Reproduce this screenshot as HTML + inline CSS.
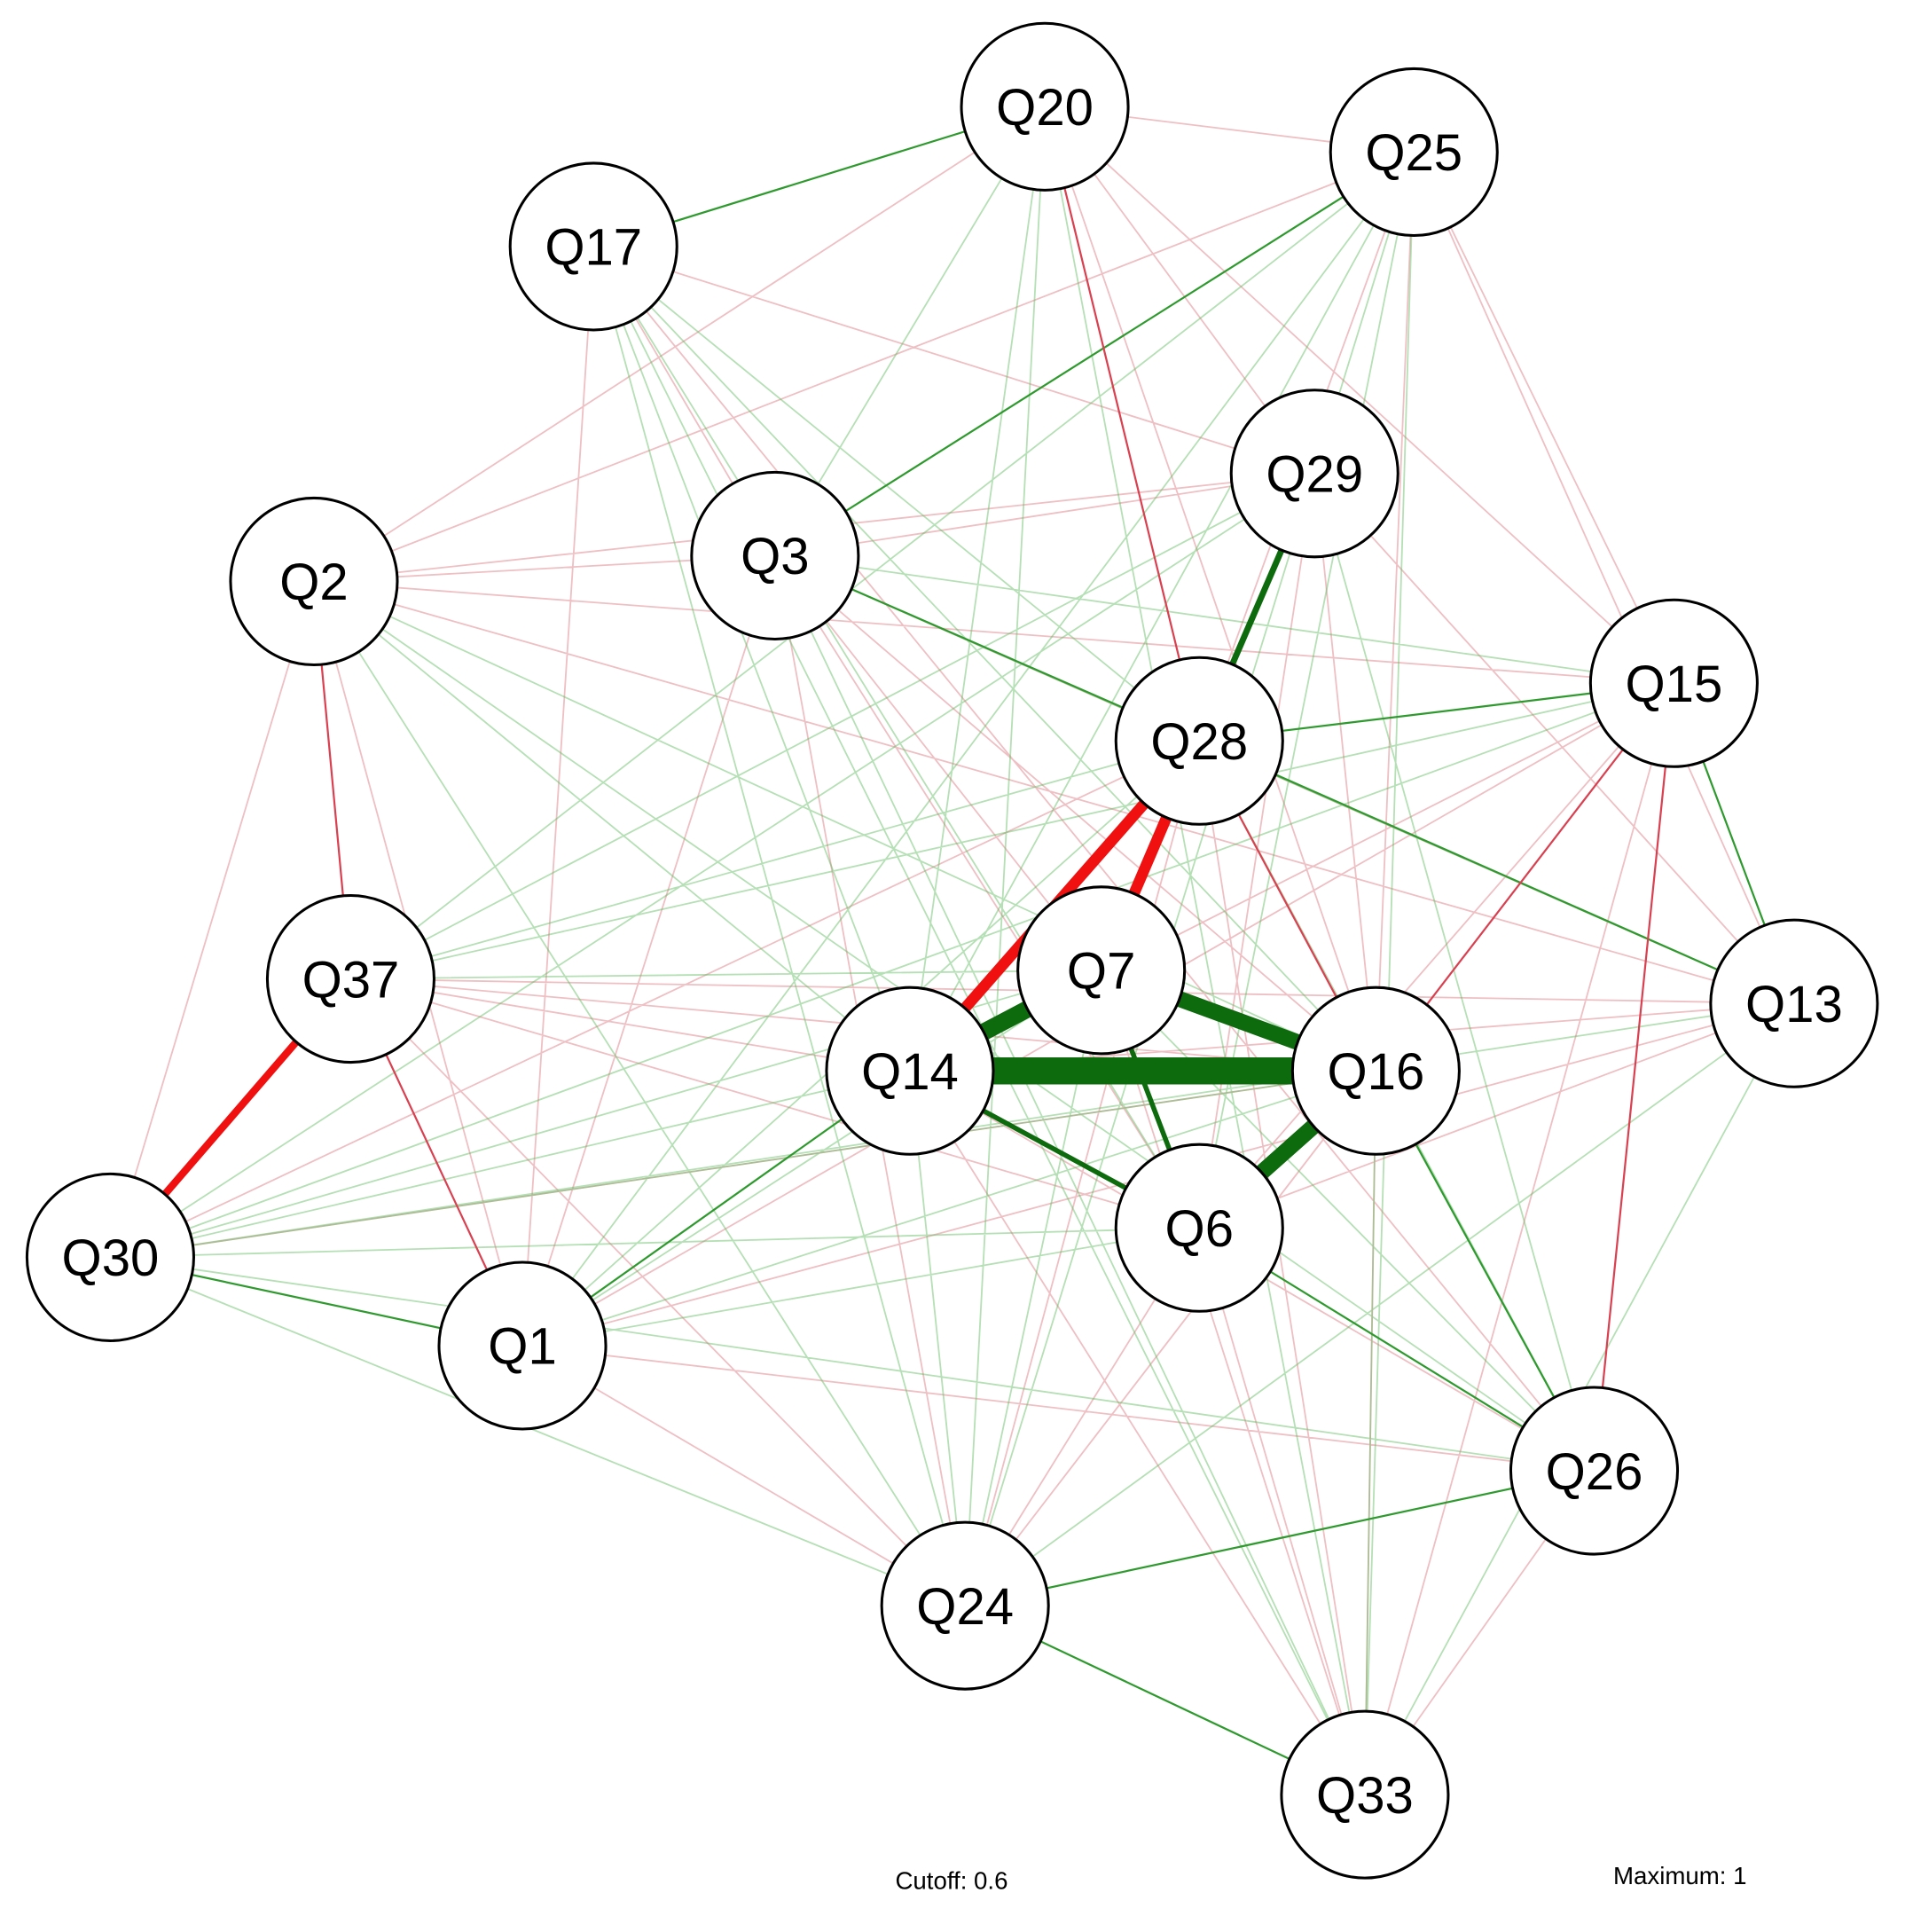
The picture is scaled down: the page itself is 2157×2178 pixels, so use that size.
<!DOCTYPE html>
<html><head><meta charset="utf-8"><style>
html,body{margin:0;padding:0;background:#fff;width:2157px;height:2178px;overflow:hidden}
svg{display:block}
text{font-family:"Liberation Sans",Arial,sans-serif}
</style></head><body>
<svg width="2157" height="2178" viewBox="0 0 1560 1575" preserveAspectRatio="none" xmlns="http://www.w3.org/2000/svg">
<g fill="none" stroke-linecap="round">
<path stroke="#d9707a" stroke-opacity="0.45" stroke-width="1.3" d="
M852,87L1153,124 M852,87L1072,386 M852,87L1365,557 M852,87L256,474 M1153,124L256,474 M1153,124L1365,557 M1153,124L978,604 M1153,124L1122,873
M484,201L632,453 M484,201L426,1097 M484,201L1072,386 M256,474L632,453 M256,474L1072,386 M256,474L1365,557 M256,474L90,1025 M256,474L426,1097
M632,453L426,1097 M632,453L898,791 M632,453L1122,873 M632,453L978,1001 M632,453L787,1309 M1072,386L1122,873 M1072,386L978,1001 M1072,386L1463,818 M1072,386L632,453
M1365,557L742,873 M1365,557L978,1001 M1365,557L426,1097 M1365,557L787,1309 M1463,818L286,798 M1463,818L742,873 M1463,818L978,1001 M1463,818L426,1097
M286,798L742,873 M286,798L1122,873 M286,798L978,1001 M286,798L787,1309 M90,1025L1122,873 M426,1097L1300,1199 M426,1097L787,1309 M742,873L1113,1463 M742,873L1300,1199
M1122,873L787,1309 M978,1001L787,1309 M978,1001L1113,1463 M1300,1199L1113,1463 M787,1309L978,604 M978,604L1113,1463 M898,791L1113,1463 M1122,873L1113,1463 M1365,557L1113,1463 M978,604L90,1025
M1153,124L1463,818 M852,87L1122,873 M484,201L1300,1199 M256,474L1463,818 M632,453L1463,818"/>
<path stroke="#5cb85c" stroke-opacity="0.45" stroke-width="1.3" d="
M1153,124L286,798 M1153,124L426,1097 M1153,124L1072,386 M1153,124L742,873 M1153,124L978,1001 M1153,124L1113,1463 M852,87L787,1309 M852,87L632,453 M852,87L742,873
M484,201L742,873 M484,201L978,1001 M484,201L1122,873 M484,201L978,604 M484,201L787,1309 M256,474L742,873 M256,474L1122,873 M256,474L787,1309 M256,474L1300,1199
M632,453L1463,818 M632,453L1113,1463 M1072,386L286,798 M1072,386L90,1025 M1072,386L787,1309 M1072,386L1300,1199 M1365,557L286,798 M1365,557L90,1025 M1365,557L632,453
M1463,818L90,1025 M1463,818L787,1309 M1463,818L1113,1463 M286,798L978,604 M286,798L898,791 M90,1025L742,873 M90,1025L978,1001 M90,1025L898,791 M90,1025L787,1309 M90,1025L1300,1199
M426,1097L1122,873 M426,1097L898,791 M426,1097L978,604 M742,873L787,1309 M1122,873L1113,1463 M978,1001L426,1097 M898,791L787,1309 M978,604L1300,1199 M1300,1199L898,791 M1122,873L90,1025
M484,201L1113,1463 M852,87L1113,1463"/>
<g stroke-width="1.6">
<path stroke="#2e9a2e" d="M90,1025L426,1097 M787,1309L1113,1463 M787,1309L1300,1199 M978,1001L1300,1199 M632,453L978,604 M1153,124L632,453 M978,604L1463,818 M484,201L852,87 M426,1097L742,873 M1122,873L1300,1199 M1365,557L978,604 M1365,557L1463,818"/>
<path stroke="#d94050" d="M978,604L1122,873 M852,87L978,604 M286,798L426,1097 M256,474L286,798 M1365,557L1300,1199 M1122,873L1365,557"/>
</g>
<path stroke="#f01010" stroke-width="6" d="M286,798L90,1025"/>
<path stroke="#f01010" stroke-width="9" d="M978,604L742,873"/>
<path stroke="#f01010" stroke-width="9" d="M978,604L898,791"/>
<path stroke="#0d6b0d" stroke-width="5" d="M1072,386L978,604"/>
<path stroke="#0d6b0d" stroke-width="4" d="M742,873L978,1001"/>
<path stroke="#0d6b0d" stroke-width="4" d="M898,791L978,1001"/>
<path stroke="#0d6b0d" stroke-width="14" d="M898,791L742,873"/>
<path stroke="#0d6b0d" stroke-width="13" d="M898,791L1122,873"/>
<path stroke="#0d6b0d" stroke-width="13" d="M978,1001L1122,873"/>
<path stroke="#0d6b0d" stroke-width="22" d="M742,873L1122,873"/>
</g>
<g fill="#fff" stroke="#000" stroke-width="2.2">
<circle cx="852" cy="87" r="68"/><circle cx="1153" cy="124" r="68"/><circle cx="484" cy="201" r="68"/>
<circle cx="1072" cy="386" r="68"/><circle cx="256" cy="474" r="68"/><circle cx="632" cy="453" r="68"/>
<circle cx="1365" cy="557" r="68"/><circle cx="978" cy="604" r="68"/><circle cx="898" cy="791" r="68"/>
<circle cx="286" cy="798" r="68"/><circle cx="1463" cy="818" r="68"/><circle cx="742" cy="873" r="68"/>
<circle cx="1122" cy="873" r="68"/><circle cx="978" cy="1001" r="68"/><circle cx="90" cy="1025" r="68"/>
<circle cx="426" cy="1097" r="68"/><circle cx="1300" cy="1199" r="68"/><circle cx="787" cy="1309" r="68"/>
<circle cx="1113" cy="1463" r="68"/>
</g>
<g font-size="42" text-anchor="middle" fill="#000">
<text x="852" y="102">Q20</text><text x="1153" y="139">Q25</text><text x="484" y="216">Q17</text>
<text x="1072" y="401">Q29</text><text x="256" y="489">Q2</text><text x="632" y="468">Q3</text>
<text x="1365" y="572">Q15</text><text x="978" y="619">Q28</text><text x="898" y="806">Q7</text>
<text x="286" y="813">Q37</text><text x="1463" y="833">Q13</text><text x="742" y="888">Q14</text>
<text x="1122" y="888">Q16</text><text x="978" y="1016">Q6</text><text x="90" y="1040">Q30</text>
<text x="426" y="1112">Q1</text><text x="1300" y="1214">Q26</text><text x="787" y="1324">Q24</text>
<text x="1113" y="1478">Q33</text>
</g>
<text x="776" y="1540" font-size="20" text-anchor="middle">Cutoff: 0.6</text>
<text x="1370" y="1536" font-size="20" text-anchor="middle">Maximum: 1</text>
</svg>
</body></html>
